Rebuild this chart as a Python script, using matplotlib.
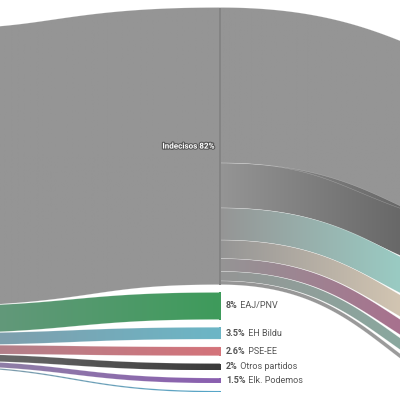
import matplotlib.pyplot as plt
import numpy as np
from matplotlib.path import Path
from matplotlib.patches import PathPatch, Rectangle
from matplotlib.colors import to_rgb
import matplotlib.patheffects as pe

plt.rcParams['font.family'] = ['Roboto', 'DejaVu Sans']

# columna central (%)
mid_names = ["Indecisos", "EAJ/PNV", "EH Bildu", "PSE-EE", "Otros partidos", "Elk. Podemos", "PP"]
mid_values = [82, 8, 3.5, 2.6, 2, 1.5, 0.4]
mid_colors = ["#959595", "#3e9b5b", "#6cb6c6", "#d4737a", "#3a3a3a", "#8a5fb0", "#4fa3c7"]
left_colors = ["#959595", "#62987a", "#7e9fad", "#b3808a", "#686868", "#8f7ea6", "#7a98a8"]

# a donde van los indecisos (%)
out_values = [46, 13.3, 9.5, 5.5, 3.8, 2.8, 1.1]
out_colors = ["#959595", "#686868", "#9acbc3", "#d2c5b2", "#a8718e", "#8aa89f", "#9c9c9c"]

K = 3.38          # px por punto porcentual
X_LEFT, X_MID, X_RIGHT = -75, 220, 560

fig = plt.figure(figsize=(4, 4), dpi=100)
ax = fig.add_axes([0, 0, 1, 1])
ax.axis('off')


def link(x0, ya, x1, yb, h, c0, c1, gx0, gx1):
    # banda = trazo de ancho h sobre la curva central (como d3-sankey)
    xm = (x0 + x1) / 2
    t = np.linspace(0, 1, 300)
    px = (1-t)**3*x0 + 3*(1-t)**2*t*xm + 3*(1-t)*t**2*xm + t**3*x1
    py = (1-t)**3*ya + 3*(1-t)**2*t*ya + 3*(1-t)*t**2*yb + t**3*yb
    dx = 3*(1-t)**2*(xm-x0) + 3*t**2*(x1-xm)
    dy = 6*(1-t)*t*(yb-ya)
    n = np.hypot(dx, dy)
    nx, ny = -dy/n, dx/n
    up = np.column_stack([px + nx*h/2, py + ny*h/2])
    lo = np.column_stack([px - nx*h/2, py - ny*h/2])
    verts = np.vstack([up, lo[::-1], up[:1]])
    path = Path(verts, closed=True)
    patch = PathPatch(path, facecolor='none', edgecolor='white', lw=0.3, alpha=0.35,
                      transform=ax.transData, zorder=3)
    ax.add_patch(patch)
    f = np.linspace(0, 1, 256)[:, None]
    arr = (1-f)*np.array(to_rgb(c0)) + f*np.array(to_rgb(c1))
    im = ax.imshow(arr[None, :, :], extent=(gx0, gx1, verts[:, 1].max(), verts[:, 1].min()),
                   aspect='auto', interpolation='bilinear', zorder=2)
    im.set_clip_path(patch)


# posiciones de los nodos centrales
mid_tops = []
y = 7.5
for v in mid_values:
    mid_tops.append(y)
    y += v*K + 7.8

# entrada desde la izquierda (nodo unico)
y_left = 29
for i, v in enumerate(mid_values):
    h = v*K
    link(X_LEFT, y_left + h/2, X_MID, mid_tops[i] + h/2, h,
         left_colors[i], mid_colors[i], 0, X_MID)
    y_left += h

# salida de los indecisos hacia la derecha
y_src = mid_tops[0]
y_dst = 78.4
for i, v in enumerate(out_values):
    h = v*K
    link(X_MID, y_src + h/2, X_RIGHT, y_dst + h/2, h,
         mid_colors[0], out_colors[i], X_MID, 400)
    y_src += h
    y_dst += h + 10

# nodos y etiquetas
for i, v in enumerate(mid_values):
    h = v*K
    col = "#848484" if i == 0 else mid_colors[i]
    ax.add_patch(Rectangle((219, mid_tops[i]), 1.5, h, color=col, zorder=4, lw=0))
    yc = mid_tops[i] + h/2
    if i == 0:
        ax.text(214, yc, f"{mid_names[i]} {v:g}%", ha='right', va='center', fontsize=5.8,
                fontweight='bold', color='white', zorder=5,
                path_effects=[pe.withStroke(linewidth=1.6, foreground='#555555')])
    elif v >= 1:
        t1 = ax.text(226, yc, f"{v:g}%", ha='left', va='center', fontsize=6.5,
                     fontweight='bold', color='#555555', zorder=5)
        ax.annotate(" " + mid_names[i], xy=(1, 0), xycoords=t1, ha='left', va='bottom',
                    fontsize=6.5, color='#555555', zorder=5)

ax.set_xlim(0, 400)
ax.set_ylim(400, 0)
fig.savefig('out.png', dpi=100)
